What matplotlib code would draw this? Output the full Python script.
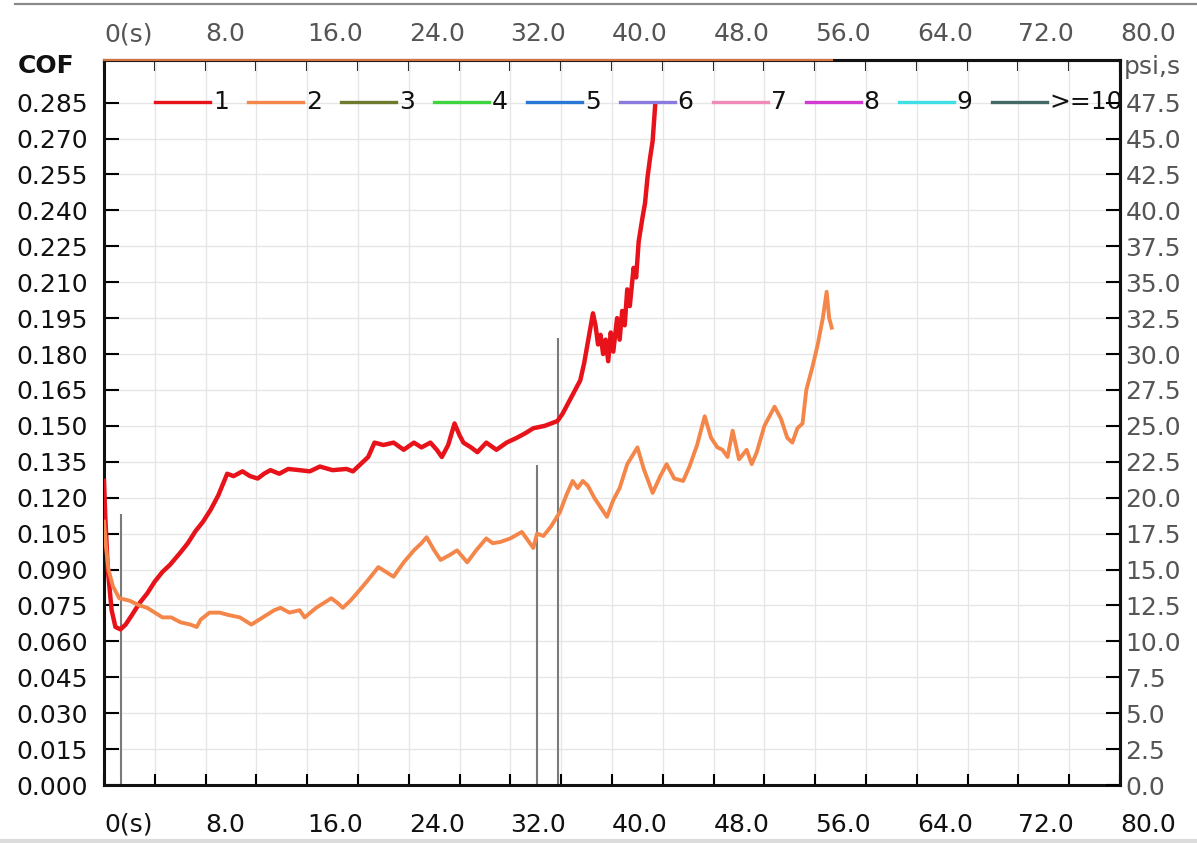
import matplotlib
matplotlib.use("Agg")
import matplotlib.pyplot as plt
from matplotlib.lines import Line2D
import numpy as np

plt.rcParams['font.family'] = ['DejaVu Sans']

# friction test: coefficient of friction over time, run 1 and run 2
run1 = [(0, 0.127), (0.1, 0.112), (0.3, 0.090), (0.6, 0.073), (0.9, 0.066), (1.3, 0.065),
        (1.7, 0.067), (2.2, 0.071), (2.8, 0.076), (3.4, 0.080), (4.0, 0.085), (4.6, 0.089),
        (5.2, 0.092), (6.0, 0.097), (6.6, 0.101), (7.2, 0.106), (7.8, 0.110), (8.4, 0.115),
        (9.0, 0.121), (9.7, 0.130), (10.2, 0.129), (10.9, 0.131), (11.5, 0.129), (12.1, 0.128),
        (12.6, 0.130), (13.1, 0.1315), (13.8, 0.130), (14.5, 0.132), (15.4, 0.1315), (16.2, 0.131),
        (17.0, 0.133), (18.0, 0.1315), (19.1, 0.132), (19.6, 0.131), (20.2, 0.134), (20.8, 0.137),
        (21.3, 0.143), (22.0, 0.142), (22.8, 0.143), (23.6, 0.140), (24.4, 0.143), (25.0, 0.141),
        (25.7, 0.143), (26.2, 0.140), (26.6, 0.137), (27.1, 0.142), (27.6, 0.151), (28.0, 0.146),
        (28.3, 0.143), (28.9, 0.141), (29.4, 0.139), (30.1, 0.143), (30.9, 0.140), (31.7, 0.143),
        (32.5, 0.145), (33.2, 0.147), (33.8, 0.149), (34.7, 0.150), (35.7, 0.152), (36.1, 0.155),
        (36.6, 0.160), (37.1, 0.165), (37.5, 0.169), (37.8, 0.176), (38.1, 0.185), (38.5, 0.197),
        (38.7, 0.192), (38.9, 0.184), (39.1, 0.188), (39.3, 0.180), (39.5, 0.186), (39.7, 0.177),
        (39.9, 0.189), (40.1, 0.181), (40.4, 0.195), (40.6, 0.186), (40.8, 0.198), (41.0, 0.192),
        (41.2, 0.207), (41.4, 0.200), (41.7, 0.216), (41.9, 0.212), (42.1, 0.227), (42.4, 0.237),
        (42.6, 0.243), (42.8, 0.254), (43.0, 0.262), (43.2, 0.269), (43.4, 0.284)]

run2 = [(0, 0.110), (0.15, 0.100), (0.35, 0.090), (0.7, 0.083), (1.2, 0.078), (2.0, 0.077),
        (2.8, 0.075), (3.4, 0.074), (4.0, 0.072), (4.6, 0.070), (5.3, 0.070), (6.0, 0.068),
        (6.8, 0.067), (7.3, 0.066), (7.6, 0.069), (8.3, 0.072), (9.1, 0.072), (9.8, 0.071),
        (10.7, 0.070), (11.6, 0.067), (12.2, 0.069), (12.8, 0.071), (13.4, 0.073), (13.9, 0.074),
        (14.6, 0.072), (15.4, 0.073), (15.8, 0.070), (16.7, 0.074), (17.3, 0.076), (17.9, 0.078),
        (18.4, 0.076), (18.8, 0.074), (19.4, 0.077), (19.9, 0.080), (20.7, 0.085), (21.6, 0.091),
        (22.2, 0.089), (22.8, 0.087), (23.6, 0.093), (24.4, 0.098), (25.0, 0.101), (25.4, 0.1035),
        (26.0, 0.098), (26.5, 0.094), (27.2, 0.096), (27.8, 0.098), (28.6, 0.093), (29.3, 0.098),
        (30.1, 0.103), (30.6, 0.101), (31.2, 0.1015), (32.0, 0.103), (32.9, 0.1057), (33.4, 0.102),
        (33.8, 0.099), (34.1, 0.105), (34.6, 0.104), (35.2, 0.108), (35.9, 0.114), (36.4, 0.121),
        (36.9, 0.127), (37.3, 0.124), (37.7, 0.127), (38.1, 0.125), (38.6, 0.120), (39.1, 0.116),
        (39.6, 0.112), (40.1, 0.119), (40.6, 0.124), (41.2, 0.134), (42.0, 0.141), (42.5, 0.132),
        (43.2, 0.122), (43.8, 0.129), (44.3, 0.134), (44.9, 0.128), (45.6, 0.127), (46.1, 0.133),
        (46.7, 0.142), (47.3, 0.154), (47.8, 0.145), (48.3, 0.141), (48.7, 0.140), (49.1, 0.137),
        (49.5, 0.148), (50.0, 0.136), (50.6, 0.140), (51.0, 0.134), (51.4, 0.139), (52.0, 0.150),
        (52.8, 0.158), (53.3, 0.153), (53.8, 0.145), (54.2, 0.143), (54.6, 0.149), (55.0, 0.151),
        (55.3, 0.165), (55.8, 0.175), (56.2, 0.184), (56.6, 0.195), (56.9, 0.206), (57.1, 0.195),
        (57.3, 0.191)]

# event markers (time, height)
event_t = [1.35, 34.1, 35.75]
event_cof = [0.113, 0.1335, 0.1865]

legend_labels = ['1', '2', '3', '4', '5', '6', '7', '8', '9', '>=10']
legend_colors = ['#e8121a', '#f4864a', '#6f7a2e', '#3ed43e', '#2a78d6', '#8a7ae0',
                 '#f08ab8', '#d23ad2', '#3ee0e6', '#456a66']

x_ticks = np.arange(0, 81, 8)
x_labels = ['0(s)'] + ['%.1f' % v for v in x_ticks[1:]]
cof_ticks = np.arange(0, 0.286, 0.015)
psi_ticks = np.arange(0, 47.6, 2.5)
COF_TOP = 0.3028
PSI_PER_COF = 47.5 / 0.285
FS = 18

t1, c1 = np.array(run1).T
t2, c2 = np.array(run2).T

fig = plt.figure(figsize=(11.97, 8.43), dpi=100)
ax = fig.add_axes([0.08689, 0.0688, 0.84879, 0.86002])

ax.vlines(event_t, 0, event_cof, color='#7a7a7a', lw=1.5, zorder=2)
ax.plot(t1, c1, color=legend_colors[0], lw=3.2, zorder=3)
ax.plot(t2, c2, color=legend_colors[1], lw=2.8, zorder=3)

ax.set_xlim(0, 80)
ax.set_ylim(0, COF_TOP)
ax.set_xticks(x_ticks)
ax.set_xticklabels(x_labels)
ax.set_xticks(np.arange(4, 80, 8), minor=True)
ax.set_yticks(cof_ticks)
ax.set_yticklabels(['%.3f' % v for v in cof_ticks])
ax.set_axisbelow(True)
ax.grid(which='both', axis='x', color='#e6e6e6', lw=1)
ax.grid(which='major', axis='y', color='#e6e6e6', lw=1)

ax.tick_params(axis='x', which='both', direction='in', length=8, width=1.5,
               top=False, pad=20, labelsize=FS, labelcolor='#111')
ax.tick_params(axis='y', direction='in', length=11, width=1.5, pad=11.5,
               labelsize=FS, labelcolor='#111')
for lbl in ax.get_xticklabels():
    lbl.set_ha('left')

for sp in ax.spines.values():
    sp.set_linewidth(2.2)
    sp.set_color('#111')

# time axis repeated along the top
top = ax.secondary_xaxis('top')
top.set_xticks(x_ticks)
top.set_xticklabels(x_labels)
top.set_xticks(np.arange(4, 80, 8), minor=True)
top.tick_params(which='both', direction='in', length=8, width=1.5, pad=10,
                labelsize=FS, labelcolor='#555')
top.spines['top'].set_linewidth(2.2)
top.spines['top'].set_color('#111')
for lbl in top.get_xticklabels():
    lbl.set_ha('left')

# progress of run 2 marked along the top edge
ax.plot([t2[0], t2[-1]], [COF_TOP, COF_TOP], color=legend_colors[1], lw=1.6,
        alpha=0.85, clip_on=False, zorder=5)

# pressure scale on the right
ax2 = ax.twinx()
ax2.set_ylim(0, COF_TOP * PSI_PER_COF)
ax2.set_yticks(psi_ticks)
ax2.set_yticklabels(['%.1f' % v for v in psi_ticks])
ax2.tick_params(axis='y', direction='in', length=10, width=1.5, pad=4,
                labelsize=FS, labelcolor='#555')
for name, sp in ax2.spines.items():
    sp.set_visible(name == 'right')
ax2.spines['right'].set_linewidth(2.2)
ax2.spines['right'].set_color('#111')

fig.text(18 / 1197, 1 - 66 / 843, 'COF', fontsize=FS, fontweight='bold',
         color='#111', va='center', ha='left')
fig.text(1124 / 1197, 1 - 67 / 843, 'psi,s', fontsize=FS, color='#555',
         va='center', ha='left')

# series legend drawn as a single row inside the plot
leg_y = 0.942
for i, (lab, col) in enumerate(zip(legend_labels, legend_colors)):
    x0 = 0.0502 + i * 0.0915
    ax.add_line(Line2D([x0, x0 + 0.054], [leg_y, leg_y], transform=ax.transAxes,
                       color=col, lw=2.4, clip_on=False, zorder=6))
    ax.text(x0 + 0.057, leg_y, lab, transform=ax.transAxes, fontsize=FS,
            color='#111', va='center', ha='left', zorder=6)

# window frame lines
fig.add_artist(Line2D([15 / 1197, 1], [1 - 4 / 843] * 2, color='#8a8a8a', lw=1.6))
fig.add_artist(Line2D([0, 1], [1 - 841 / 843] * 2, color='#dcdcdc', lw=3))

fig.savefig('out.png', dpi=100)
